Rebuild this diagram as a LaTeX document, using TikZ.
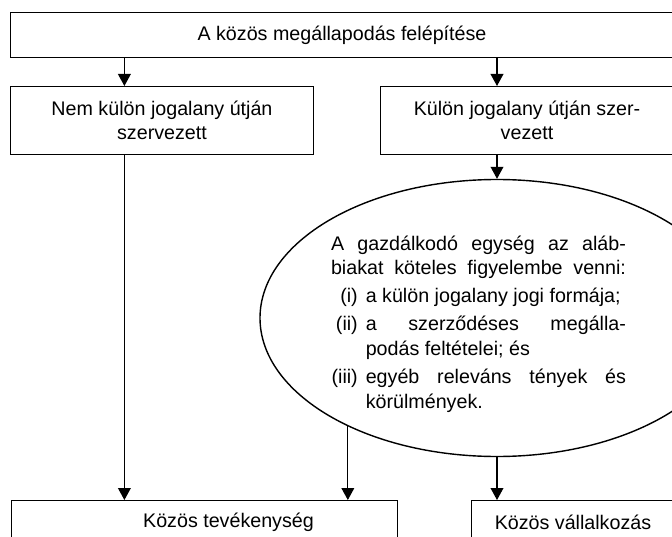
\documentclass[tikz,border=0pt]{standalone}
\usepackage{fontspec}
\setmainfont{Liberation Sans}
\usetikzlibrary{calc}
\usetikzlibrary{positioning}
\usetikzlibrary{shapes.geometric}
\usetikzlibrary{arrows.meta}
\tikzstyle{boxnode} = [draw, rectangle, line width=0.7pt, align=center, inner sep=0pt]
\tikzstyle{condnode} = [draw, ellipse, line width=1pt, inner sep=0pt]
\tikzstyle{condtext} = [text width=7.375cm, align=justify, inner sep=0pt]
\newcommand{\itemlabel}[1]{\hangindent=0.87cm\hangafter=1\makebox[0.87cm][r]{#1\hspace{0.2cm}}}

\begin{document}
\begin{tikzpicture}[>={Triangle[width=0.32cm,length=0.3cm]}, line width=0.8pt,
    font=\fontsize{14}{17.5}\selectfont]
  \useasboundingbox (0,0) rectangle (16.8,-13.425);
  \clip (0,0) rectangle (16.8,-13.425);

  \node[boxnode, minimum width=16.575cm, minimum height=1.125cm, anchor=north west] (top) at (0.25,-0.3) {A közös megállapodás felépítése};
  \node[boxnode, minimum width=7.575cm, minimum height=1.7cm, below right=0.7cm and 0cm of top.south west] (nosep) {Nem külön jogalany útján\\szervezett};
  \node[boxnode, minimum width=7.325cm, minimum height=1.7cm, below left=0.7cm and 0cm of top.south east] (sep) {Külön jogalany útján szer-\\vezett};

  \node[condnode, minimum width=11.85cm, minimum height=6.925cm] (cond) at (12.425,-7.95) {};
  \node[condtext] (factors) at (11.9625,-8.1) {\tolerance=10000\hyphenpenalty=10000
    \setlength{\parskip}{2.5pt}\setlength{\parindent}{0pt}%
    {\parfillskip=0pt A gazdálkodó egység az aláb-\linebreak biakat köteles figyelembe venni:\par}
    \itemlabel{(i)}a külön jogalany jogi formája;\par
    \itemlabel{(ii)}a szerződéses megálla-\linebreak podás feltételei; és\par
    \itemlabel{(iii)}egyéb releváns tények és\linebreak körülmények.\par};

  \node[boxnode, minimum width=9.65cm, minimum height=1.1cm, anchor=north west] (joint) at (0.275,-12.5) {\hspace*{1.2cm}Közös tevékenység};
  \node[boxnode, minimum width=5.075cm, minimum height=1.1cm, right=1.825cm of joint.north east, anchor=north west] (jv) {Közös vállalkozás};

  \coordinate (n1) at ([xshift=-0.94cm]nosep.north);
  \coordinate (n2) at ([xshift=-0.94cm]nosep.south);

  \draw[->] (n1 |- top.south) -- (n1);
  \draw[->] (cond.north |- top.south) -- (cond.north |- sep.north);
  \draw[->] (cond.north |- sep.south) -- (cond.north);
  \draw[->] (n2) -- (n2 |- joint.north);
  \draw[->] (cond.-144) -- (cond.-144 |- joint.north);
  \draw[->] (cond.south) -- (cond.south |- jv.north);
\end{tikzpicture}
\end{document}
